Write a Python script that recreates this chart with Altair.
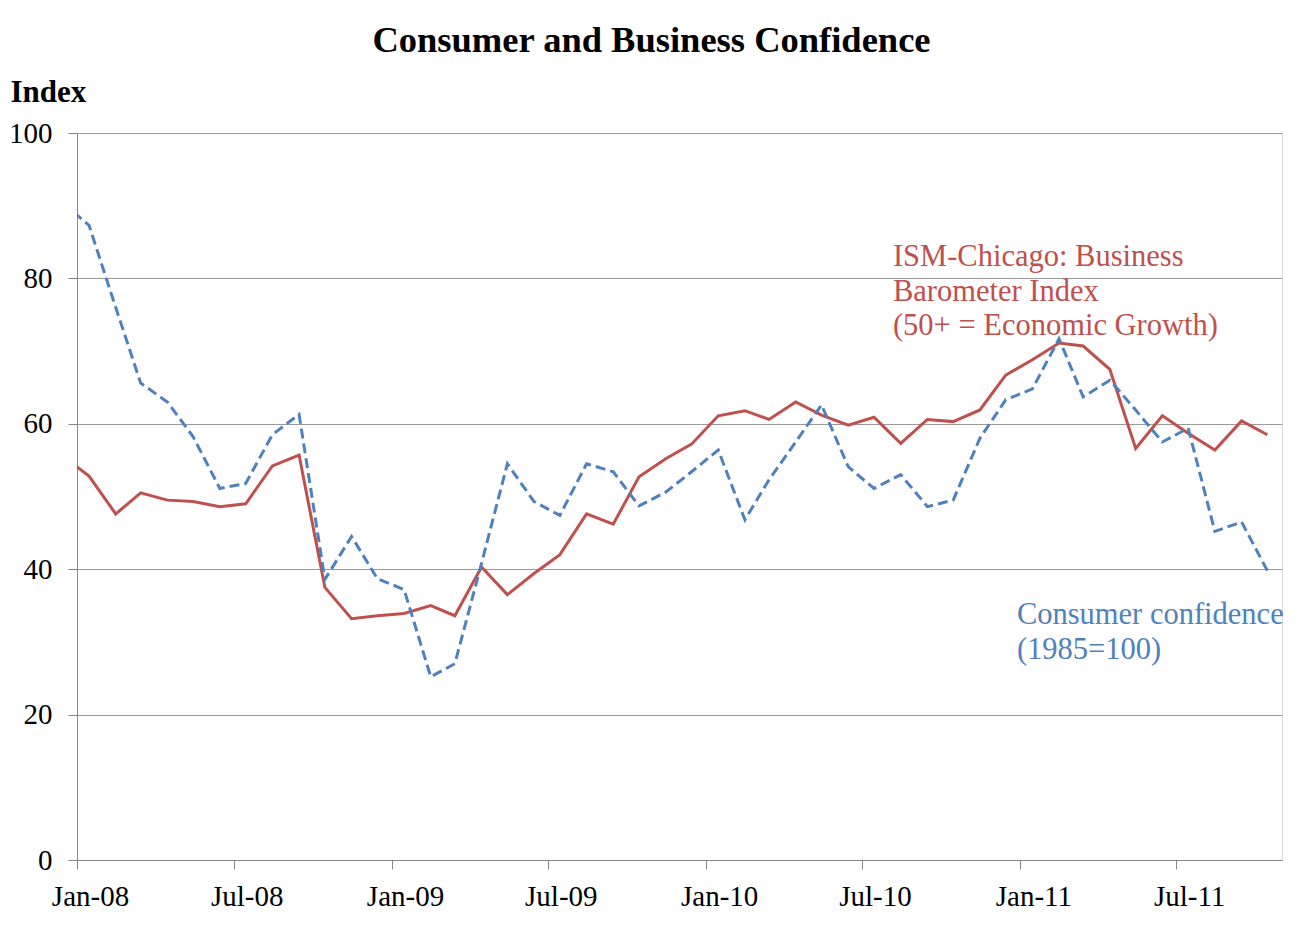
import altair as alt
import pandas as pd

# Monthly observations, Dec-2007 .. Oct-2011 (plotted mid-month)
months = []
yr, mo = 2007, 12
for _ in range(47):
    months.append(f"{yr}-{mo:02d}-15")
    mo += 1
    if mo > 12:
        mo = 1
        yr += 1

consumer_confidence = [
    90.4,
    87.3, 76.0, 65.6, 63.0, 58.2, 51.1, 51.8, 58.5, 61.3, 38.6, 44.5, 38.7,
    37.2, 25.2, 27.0, 40.8, 54.5, 49.3, 47.4, 54.5, 53.4, 48.7, 50.6, 53.4,
    56.4, 46.8, 52.3, 57.5, 62.6, 54.1, 51.1, 53.0, 48.6, 49.5, 58.0, 63.3,
    64.8, 71.7, 63.7, 66.0, 61.9, 57.5, 59.4, 45.2, 46.5, 39.8,
]
business_barometer = [
    55.6,
    52.8, 47.6, 50.5, 49.5, 49.3, 48.6, 49.0, 54.2, 55.7, 37.5, 33.2, 33.6,
    33.9, 35.0, 33.6, 40.3, 36.5, 39.4, 42.0, 47.6, 46.2, 52.7, 55.2, 57.2,
    61.1, 61.8, 60.6, 63.0, 61.2, 59.8, 60.9, 57.3, 60.6, 60.3, 61.9, 66.7,
    68.8, 71.1, 70.7, 67.5, 56.6, 61.1, 58.7, 56.4, 60.4, 58.5,
]

tick_years = [2008, 2009, 2010, 2011]
y_ticks = [0, 20, 40, 60, 80, 100]

red_lines = ["ISM-Chicago: Business", "Barometer Index", "(50+ = Economic Growth)"]
blue_lines = ["Consumer confidence", "(1985=100)"]

RED = "#C0504D"
BLUE = "#4F81BD"
FONT = "Liberation Serif"

biz = pd.DataFrame({"date": months, "value": business_barometer})
con = pd.DataFrame({"date": months, "value": consumer_confidence})

red_ann = pd.DataFrame({"date": ["2010-08-06"] * 3, "value": [82.9, 78.1, 73.4], "text": red_lines})
blue_ann = pd.DataFrame({"date": ["2010-12-28"] * 2, "value": [33.7, 28.9], "text": blue_lines})

x_values = []
for y in tick_years:
    x_values.append(alt.DateTime(year=y, month=1, date=1, utc=True))
    x_values.append(alt.DateTime(year=y, month=7, date=1, utc=True))

x_enc = alt.X(
    "date:T",
    scale=alt.Scale(
        type="utc",
        domain=[alt.DateTime(year=2008, month=1, date=1, utc=True),
                alt.DateTime(year=2011, month=11, date=1, utc=True)],
    ),
    axis=alt.Axis(
        title=None,
        values=x_values,
        format="%b-%y",
        grid=False,
        labelFont=FONT,
        labelFontSize=29,
        labelColor="black",
        labelOffset=13,
        labelPadding=13,
        labelFlush=False,
        labelOverlap=False,
        tickSize=9,
        tickColor="#868686",
        domainColor="#868686",
    ),
)

y_enc = alt.Y(
    "value:Q",
    scale=alt.Scale(domain=[0, 100], nice=False),
    axis=alt.Axis(
        title="Index",
        titleFont=FONT,
        titleFontSize=31,
        titleFontWeight="bold",
        titleColor="black",
        titleAngle=0,
        titleAlign="left",
        titleBaseline="alphabetic",
        titleX=-67,
        titleY=-32,
        values=y_ticks,
        labelFont=FONT,
        labelFontSize=29,
        labelColor="black",
        labelPadding=16,
        tickSize=9,
        tickColor="#868686",
        domainColor="#868686",
        gridColor="#9A9A9A",
        gridWidth=1,
    ),
)

red_line = alt.Chart(biz).mark_line(color=RED, strokeWidth=3, clip=True).encode(x=x_enc, y=y_enc)
blue_line = alt.Chart(con).mark_line(color=BLUE, strokeWidth=3, strokeDash=[10, 5], clip=True).encode(
    x="date:T", y="value:Q"
)

red_text = alt.Chart(red_ann).mark_text(
    align="left", baseline="middle", font=FONT, fontSize=30.5, color=RED
).encode(x="date:T", y="value:Q", text="text:N")
blue_text = alt.Chart(blue_ann).mark_text(
    align="left", baseline="middle", font=FONT, fontSize=30.5, color=BLUE
).encode(x="date:T", y="value:Q", text="text:N")

chart = alt.layer(red_line, blue_line, red_text, blue_text).properties(
    width=1205,
    height=727,
    autosize=alt.AutoSizeParams(type="none"),
    padding={"left": 69, "top": 125, "right": 5, "bottom": 60},
    title=alt.TitleParams(
        "Consumer and Business Confidence",
        font=FONT,
        fontSize=36.5,
        fontWeight="bold",
        color="black",
        anchor="middle",
        frame="group",
        baseline="bottom",
        offset=17,
        dx=-28,
        dy=37,
    ),
).configure_view(stroke=None).configure(background="white")

chart.save("out.html", embed_options={"renderer": "svg", "actions": False})
